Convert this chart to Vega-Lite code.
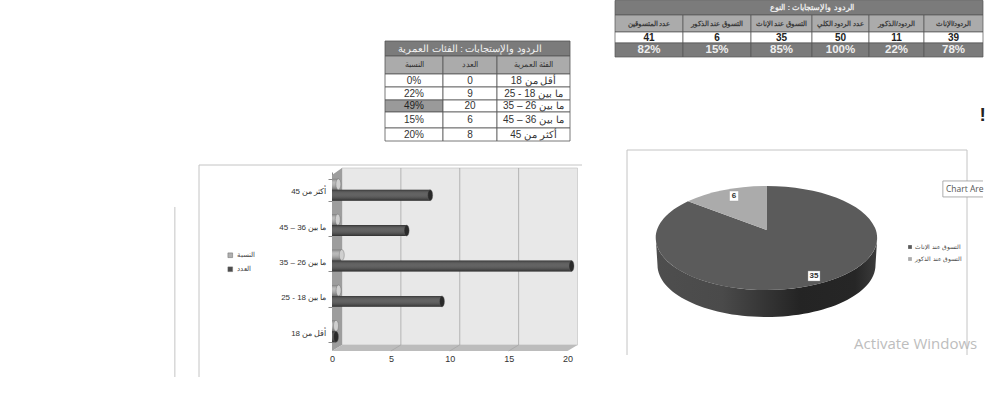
{
  "$schema": "https://vega.github.io/schema/vega-lite/v6.json",
  "padding": 0,
  "background": "white",
  "config": {
    "view": {"stroke": null},
    "font": "Liberation Sans",
    "text": {"font": "Liberation Sans"}
  },
  "datasets": {
    "ageTable": [
      {"section": "title", "label": "الردود والإستجابات : الفئات العمرية", "c0": 0, "c1": 3, "cm": 1.5, "r0": 0, "r1": 1, "rm": 0.5},
      {"section": "header", "label": "النسبة", "c0": 0, "c1": 1, "cm": 0.5, "r0": 1, "r1": 2, "rm": 1.5},
      {"section": "header", "label": "العدد", "c0": 1, "c1": 2, "cm": 1.5, "r0": 1, "r1": 2, "rm": 1.5},
      {"section": "header", "label": "الفئة العمرية", "c0": 2, "c1": 3, "cm": 2.5, "r0": 1, "r1": 2, "rm": 1.5},
      {"section": "body", "label": "0%", "c0": 0, "c1": 1, "cm": 0.5, "r0": 2, "r1": 3, "rm": 2.5},
      {"section": "body", "label": "0", "c0": 1, "c1": 2, "cm": 1.5, "r0": 2, "r1": 3, "rm": 2.5},
      {"section": "body", "label": "\u202Bأقل من 18\u202C", "c0": 2, "c1": 3, "cm": 2.5, "r0": 2, "r1": 3, "rm": 2.5},
      {"section": "body", "label": "22%", "c0": 0, "c1": 1, "cm": 0.5, "r0": 3, "r1": 4, "rm": 3.5},
      {"section": "body", "label": "9", "c0": 1, "c1": 2, "cm": 1.5, "r0": 3, "r1": 4, "rm": 3.5},
      {"section": "body", "label": "\u202Bما بين 18 - 25\u202C", "c0": 2, "c1": 3, "cm": 2.5, "r0": 3, "r1": 4, "rm": 3.5},
      {"section": "highlight", "label": "49%", "c0": 0, "c1": 1, "cm": 0.5, "r0": 4, "r1": 5, "rm": 4.5},
      {"section": "body", "label": "20", "c0": 1, "c1": 2, "cm": 1.5, "r0": 4, "r1": 5, "rm": 4.5},
      {"section": "body", "label": "\u202Bما بين 26 – 35\u202C", "c0": 2, "c1": 3, "cm": 2.5, "r0": 4, "r1": 5, "rm": 4.5},
      {"section": "body", "label": "15%", "c0": 0, "c1": 1, "cm": 0.5, "r0": 5, "r1": 6, "rm": 5.5},
      {"section": "body", "label": "6", "c0": 1, "c1": 2, "cm": 1.5, "r0": 5, "r1": 6, "rm": 5.5},
      {"section": "body", "label": "\u202Bما بين 36 – 45\u202C", "c0": 2, "c1": 3, "cm": 2.5, "r0": 5, "r1": 6, "rm": 5.5},
      {"section": "body", "label": "20%", "c0": 0, "c1": 1, "cm": 0.5, "r0": 6, "r1": 7, "rm": 6.5},
      {"section": "body", "label": "8", "c0": 1, "c1": 2, "cm": 1.5, "r0": 6, "r1": 7, "rm": 6.5},
      {"section": "body", "label": "\u202Bأكثر من 45\u202C", "c0": 2, "c1": 3, "cm": 2.5, "r0": 6, "r1": 7, "rm": 6.5}
    ],
    "genderTable": [
      {"section": "title", "label": "الردود والإستجابات : النوع", "c0": 0, "c1": 6, "cm": 3, "r0": 0, "r1": 1, "rm": 0.5},
      {"section": "header", "label": "عدد المتسوقين", "c0": 0, "c1": 1, "cm": 0.5, "r0": 1, "r1": 2, "rm": 1.5},
      {"section": "header", "label": "التسوق عند الذكور", "c0": 1, "c1": 2, "cm": 1.5, "r0": 1, "r1": 2, "rm": 1.5},
      {"section": "header", "label": "التسوق عند الإناث", "c0": 2, "c1": 3, "cm": 2.5, "r0": 1, "r1": 2, "rm": 1.5},
      {"section": "header", "label": "عدد الردود الكلي", "c0": 3, "c1": 4, "cm": 3.5, "r0": 1, "r1": 2, "rm": 1.5},
      {"section": "header", "label": "الردود/الذكور", "c0": 4, "c1": 5, "cm": 4.5, "r0": 1, "r1": 2, "rm": 1.5},
      {"section": "header", "label": "الردود/الإناث", "c0": 5, "c1": 6, "cm": 5.5, "r0": 1, "r1": 2, "rm": 1.5},
      {"section": "body", "label": "41", "c0": 0, "c1": 1, "cm": 0.5, "r0": 2, "r1": 3, "rm": 2.5},
      {"section": "body", "label": "6", "c0": 1, "c1": 2, "cm": 1.5, "r0": 2, "r1": 3, "rm": 2.5},
      {"section": "body", "label": "35", "c0": 2, "c1": 3, "cm": 2.5, "r0": 2, "r1": 3, "rm": 2.5},
      {"section": "body", "label": "50", "c0": 3, "c1": 4, "cm": 3.5, "r0": 2, "r1": 3, "rm": 2.5},
      {"section": "body", "label": "11", "c0": 4, "c1": 5, "cm": 4.5, "r0": 2, "r1": 3, "rm": 2.5},
      {"section": "body", "label": "39", "c0": 5, "c1": 6, "cm": 5.5, "r0": 2, "r1": 3, "rm": 2.5},
      {"section": "pct", "label": "82%", "c0": 0, "c1": 1, "cm": 0.5, "r0": 3, "r1": 4, "rm": 3.5},
      {"section": "pct", "label": "15%", "c0": 1, "c1": 2, "cm": 1.5, "r0": 3, "r1": 4, "rm": 3.5},
      {"section": "pct", "label": "85%", "c0": 2, "c1": 3, "cm": 2.5, "r0": 3, "r1": 4, "rm": 3.5},
      {"section": "pct", "label": "100%", "c0": 3, "c1": 4, "cm": 3.5, "r0": 3, "r1": 4, "rm": 3.5},
      {"section": "pct", "label": "22%", "c0": 4, "c1": 5, "cm": 4.5, "r0": 3, "r1": 4, "rm": 3.5},
      {"section": "pct", "label": "78%", "c0": 5, "c1": 6, "cm": 5.5, "r0": 3, "r1": 4, "rm": 3.5}
    ],
    "ages": [
      {"group": "أكثر من 45", "series": "النسبة", "value": 0.2},
      {"group": "أكثر من 45", "series": "العدد", "value": 8},
      {"group": "ما بين 36 – 45", "series": "النسبة", "value": 0.15},
      {"group": "ما بين 36 – 45", "series": "العدد", "value": 6},
      {"group": "ما بين 26 – 35", "series": "النسبة", "value": 0.49},
      {"group": "ما بين 26 – 35", "series": "العدد", "value": 20},
      {"group": "ما بين 18 - 25", "series": "النسبة", "value": 0.22},
      {"group": "ما بين 18 - 25", "series": "العدد", "value": 9},
      {"group": "أقل من 18", "series": "النسبة", "value": 0},
      {"group": "أقل من 18", "series": "العدد", "value": 0}
    ],
    "slices": [
      {"slice": "التسوق عند الإناث", "value": 35},
      {"slice": "التسوق عند الذكور", "value": 6}
    ]
  },
  "bounds": "flush",
  "spacing": 0,
  "columns": 2,
  "resolve": {"scale": {"color": "independent", "fill": "independent", "size": "independent", "shape": "independent"}},
  "concat": [
    {
      "width": 600,
      "height": 150,
      "data": {"name": "ageTable"},
      "layer": [
        {
          "mark": {"type": "rect", "stroke": "#555", "strokeWidth": 0.8},
          "encoding": {
            "x": {"field": "c0", "type": "quantitative", "axis": null, "scale": {"domain": [0, 1, 2, 3], "range": [385, 443, 497, 570]}},
            "x2": {"field": "c1"},
            "y": {"field": "r0", "type": "quantitative", "axis": null, "scale": {"domain": [0, 1, 2, 3, 4, 5, 6, 7], "range": [41, 56, 74, 87, 100, 112, 128, 141]}},
            "y2": {"field": "r1"},
            "fill": {"field": "section", "legend": null, "scale": {"domain": ["title", "header", "body", "highlight"], "range": ["#7b7b7b", "#ababab", "#ffffff", "#9a9a9a"]}}
          }
        },
        {
          "mark": {"type": "text", "baseline": "middle", "align": "center"},
          "encoding": {
            "x": {"field": "cm", "type": "quantitative", "axis": null, "scale": {"domain": [0, 1, 2, 3], "range": [385, 443, 497, 570]}},
            "y": {"field": "rm", "type": "quantitative", "axis": null, "scale": {"domain": [0, 1, 2, 3, 4, 5, 6, 7], "range": [41, 56, 74, 87, 100, 112, 128, 141]}},
            "text": {"field": "label"},
            "color": {"field": "section", "legend": null, "scale": {"domain": ["title", "header", "body", "highlight"], "range": ["#f2f2f2", "#333333", "#333333", "#222222"]}},
            "size": {"field": "section", "type": "ordinal", "legend": null, "scale": {"type": "ordinal", "domain": ["title", "header", "body", "highlight"], "range": [9.5, 7.5, 10, 10]}}
          }
        }
      ]
    },
    {
      "width": 400,
      "height": 150,
      "data": {"name": "genderTable"},
      "layer": [
        {
          "mark": {"type": "rect", "stroke": "#555", "strokeWidth": 0.7},
          "encoding": {
            "x": {"field": "c0", "type": "quantitative", "axis": null, "scale": {"domain": [0, 1, 2, 3, 4, 5, 6], "range": [15, 83, 151, 212, 269, 324, 383]}},
            "x2": {"field": "c1"},
            "y": {"field": "r0", "type": "quantitative", "axis": null, "scale": {"domain": [0, 1, 2, 3, 4], "range": [0.5, 15, 32, 43, 57]}},
            "y2": {"field": "r1"},
            "fill": {"field": "section", "legend": null, "scale": {"domain": ["title", "header", "body", "pct"], "range": ["#7b7b7b", "#ababab", "#ffffff", "#7b7b7b"]}}
          }
        },
        {
          "mark": {"type": "text", "baseline": "middle", "align": "center", "fontWeight": "bold"},
          "encoding": {
            "x": {"field": "cm", "type": "quantitative", "axis": null, "scale": {"domain": [0, 1, 2, 3, 4, 5, 6], "range": [15, 83, 151, 212, 269, 324, 383]}},
            "y": {"field": "rm", "type": "quantitative", "axis": null, "scale": {"domain": [0, 1, 2, 3, 4], "range": [0.5, 15, 32, 43, 57]}},
            "text": {"field": "label"},
            "color": {"field": "section", "legend": null, "scale": {"domain": ["title", "header", "body", "pct"], "range": ["#eeeeee", "#3a3a3a", "#222222", "#eeeeee"]}},
            "size": {"field": "section", "type": "ordinal", "legend": null, "scale": {"type": "ordinal", "domain": ["title", "header", "body", "pct"], "range": [8, 6.8, 10, 11.5]}}
          }
        }
      ]
    },
    {
      "width": 600,
      "height": 201,
      "resolve": {"scale": {"x": "independent", "y": "independent"}},
      "layer": [
        {
          "data": {"values": [
            {"x": 0, "x2": 1, "y": 0, "y2": 0},
            {"x": 0, "x2": 0, "y": 0, "y2": 1},
            {"x": -0.063, "x2": -0.063, "y": 0.198, "y2": 1}
          ]},
          "mark": {"type": "rule", "color": "#c4c4c4", "strokeWidth": 1},
          "encoding": {
            "x": {"field": "x", "type": "quantitative", "axis": null, "scale": {"domain": [0, 1], "range": [199, 582]}},
            "x2": {"field": "x2"},
            "y": {"field": "y", "type": "quantitative", "axis": null, "scale": {"domain": [0, 1], "range": [15, 227]}},
            "y2": {"field": "y2"}
          }
        },
        {
          "resolve": {"scale": {"y": "independent"}, "axis": {"x": "independent"}},
          "layer": [
            {
              "layer": [
                {
                  "data": {"values": [{"x": 0.85, "x2": 20.85, "y": 0.033, "y2": 1}]},
                  "mark": {"type": "rect", "fill": "#e8e8e8", "stroke": "#bdbdbd", "strokeWidth": 0.6},
                  "encoding": {
                    "x": {"field": "x", "type": "quantitative", "axis": null, "scale": {"domain": [0, 20], "range": [332, 567.5]}},
                    "x2": {"field": "x2"},
                    "y": {"field": "y", "type": "quantitative", "axis": null, "scale": {"domain": [0, 1], "range": [201, 18]}},
                    "y2": {"field": "y2"}
                  }
                },
                {
                  "data": {"values": [{"x": 0, "y": 0.962, "y2": 0}, {"x": 0.85, "y": 1, "y2": 0.033}]},
                  "mark": {"type": "area", "orient": "vertical", "fill": "#9d9d9d"},
                  "encoding": {
                    "x": {"field": "x", "type": "quantitative", "axis": null, "scale": {"domain": [0, 20], "range": [332, 567.5]}},
                    "y": {"field": "y", "type": "quantitative", "axis": null, "stack": null, "scale": {"domain": [0, 1], "range": [201, 18]}},
                    "y2": {"field": "y2"}
                  }
                },
                {
                  "data": {"values": [{"x": 0, "y": 0, "y2": 0}, {"x": 0.85, "y": 0.033, "y2": 0}, {"x": 20, "y": 0.033, "y2": 0}, {"x": 20.85, "y": 0.033, "y2": 0.033}]},
                  "mark": {"type": "area", "orient": "vertical", "fill": "#bcbcbc"},
                  "encoding": {
                    "x": {"field": "x", "type": "quantitative", "axis": null, "scale": {"domain": [0, 20], "range": [332, 567.5]}},
                    "y": {"field": "y", "type": "quantitative", "axis": null, "stack": null, "scale": {"domain": [0, 1], "range": [201, 18]}},
                    "y2": {"field": "y2"}
                  }
                },
                {
                  "data": {"values": [
                    {"x": 5.85, "x2": 5.85, "y": 0.033, "y2": 1},
                    {"x": 10.85, "x2": 10.85, "y": 0.033, "y2": 1},
                    {"x": 15.85, "x2": 15.85, "y": 0.033, "y2": 1},
                    {"x": 5, "x2": 5.85, "y": 0, "y2": 0.033},
                    {"x": 10, "x2": 10.85, "y": 0, "y2": 0.033},
                    {"x": 15, "x2": 15.85, "y": 0, "y2": 0.033}
                  ]},
                  "mark": {"type": "rule", "color": "#a6a6a6", "strokeWidth": 0.8},
                  "encoding": {
                    "x": {"field": "x", "type": "quantitative", "axis": null, "scale": {"domain": [0, 20], "range": [332, 567.5]}},
                    "x2": {"field": "x2"},
                    "y": {"field": "y", "type": "quantitative", "axis": null, "scale": {"domain": [0, 1], "range": [201, 18]}},
                    "y2": {"field": "y2"}
                  }
                }
              ]
            },
            {
              "data": {"name": "ages"},
              "encoding": {
                "x": {"field": "value", "type": "quantitative", "stack": null, "title": null, "scale": {"domain": [0, 20], "range": [332, 567.5]}, "axis": {"values": [0, 5, 10, 15, 20], "grid": false, "domain": false, "ticks": false, "labelFlush": false, "labelPadding": 3, "labelFontSize": 9, "labelColor": "#333"}},
                "y": {"field": "group", "type": "nominal", "title": null, "scale": {"domain": ["أكثر من 45", "ما بين 36 – 45", "ما بين 26 – 35", "ما بين 18 - 25", "أقل من 18"], "range": [22, 199], "paddingInner": 0.38, "paddingOuter": 0.19}, "axis": {"offset": -332, "tickBand": "extent", "tickSize": 4, "tickColor": "#8a8a8a", "domainColor": "#8a8a8a", "labelPadding": 2, "labelFontSize": 8, "labelOffset": 2, "labelColor": "#333", "labelExpr": "'\u202B' + datum.label"}},
                "yOffset": {"field": "series", "scale": {"domain": ["النسبة", "العدد"], "paddingInner": 0}}
              },
              "layer": [
                {
                  "mark": {"type": "bar", "xOffset": 4, "x2Offset": 4},
                  "encoding": {
                    "color": {"field": "series", "scale": {"domain": ["النسبة", "العدد"], "range": ["#b0b0b0", "#4c4c4c"]}, "legend": {"orient": "none", "legendX": 227, "legendY": 102, "title": null, "symbolType": "square", "symbolSize": 22, "labelFontSize": 6.5, "labelColor": "#444", "rowPadding": 6, "labelOffset": 3, "symbolStrokeColor": "#666", "symbolStrokeWidth": 0.5}}
                  }
                },
                {
                  "mark": {"type": "bar", "xOffset": 4, "x2Offset": 4, "color": {"gradient": "linear", "x1": 0, "y1": 0, "x2": 0, "y2": 1, "stops": [{"offset": 0, "color": "rgba(0,0,0,0.3)"}, {"offset": 0.35, "color": "rgba(255,255,255,0.12)"}, {"offset": 1, "color": "rgba(0,0,0,0.4)"}]}}
                },
                {
                  "mark": {"type": "point", "shape": "M0,-5.5 A2.5,5.5 0 1 1 0,5.5 A2.5,5.5 0 1 1 0,-5.5 Z", "size": 4, "filled": true, "opacity": 1, "xOffset": 4, "stroke": "#666", "strokeWidth": 0.4},
                  "encoding": {
                    "fill": {"field": "series", "legend": null, "scale": {"domain": ["النسبة", "العدد"], "range": ["#cfcfcf", "#2a2a2a"]}}
                  }
                }
              ]
            }
          ]
        }
      ]
    },
    {
      "width": 333,
      "height": 176,
      "resolve": {"scale": {"x": "independent", "y": "independent", "shape": "independent"}},
      "layer": [
        {
          "encoding": {
            "x": {"field": "x", "type": "quantitative", "axis": null, "scale": {"domain": [0, 1], "range": [27, 367]}},
            "y": {"field": "y", "type": "quantitative", "axis": null, "scale": {"domain": [0, 1], "range": [0, 205]}}
          },
          "layer": [
            {
              "data": {"values": [
                {"x": 0, "x2": 1, "y": 0, "y2": 0},
                {"x": 0, "x2": 0, "y": 0, "y2": 1},
                {"x": 1, "x2": 1, "y": 0, "y2": 1}
              ]},
              "mark": {"type": "rule", "color": "#c4c4c4", "strokeWidth": 1},
              "encoding": {"x2": {"field": "x2"}, "y2": {"field": "y2"}}
            },
            {
              "data": {"values": [{"x": 0.929, "x2": 1.047, "y": 0.151, "y2": 0.229}]},
              "mark": {"type": "rect", "fill": "white"},
              "encoding": {"x2": {"field": "x2"}, "y2": {"field": "y2"}}
            },
            {
              "data": {"values": [
                {"x": 0.929, "x2": 1.047, "y": 0.151, "y2": 0.151},
                {"x": 0.929, "x2": 1.047, "y": 0.229, "y2": 0.229},
                {"x": 0.929, "x2": 0.929, "y": 0.151, "y2": 0.229}
              ]},
              "mark": {"type": "rule", "color": "#999", "strokeWidth": 0.8},
              "encoding": {"x2": {"field": "x2"}, "y2": {"field": "y2"}}
            },
            {
              "data": {"values": [{"x": 0.938, "y": 0.19, "note": "Chart Are"}]},
              "mark": {"type": "text", "align": "left", "baseline": "middle", "font": "Open Sans", "fontSize": 8.5, "color": "#555"},
              "encoding": {"text": {"field": "note"}}
            },
            {
              "data": {"values": [{"x": 0.668, "y": 0.946, "note": "Activate Windows"}]},
              "mark": {"type": "text", "align": "left", "baseline": "middle", "font": "Open Sans", "fontSize": 15, "color": "#bdbdbd"},
              "encoding": {"text": {"field": "note"}}
            },
            {
              "data": {"values": [{"x": 1.046, "y": -0.17, "note": "!"}]},
              "mark": {"type": "text", "align": "center", "baseline": "middle", "fontSize": 19, "fontWeight": "bold", "color": "#222"},
              "encoding": {"text": {"field": "note"}}
            }
          ]
        },
        {
          "data": {"name": "slices"},
          "layer": [
            {
              "transform": [{"filter": "datum.value == 35"}],
              "mark": {"type": "point", "filled": true, "opacity": 1, "size": 4, "shape": "M-110.7,0 A110.7,52 0 0 0 110.7,0 L109,27 A109,52 0 0 1 -109,27 Z", "fill": {"gradient": "linear", "x1": 0, "y1": 0, "x2": 1, "y2": 0, "stops": [{"offset": 0, "color": "#4e4e4e"}, {"offset": 0.3, "color": "#4a4a4a"}, {"offset": 0.65, "color": "#242424"}, {"offset": 0.9, "color": "#262626"}, {"offset": 1, "color": "#3c3c3c"}]}}
            },
            {
              "mark": {"type": "point", "filled": true, "opacity": 1, "size": 4},
              "encoding": {
                "color": {"field": "slice", "scale": {"domain": ["التسوق عند الإناث", "التسوق عند الذكور"], "range": ["#5b5b5b", "#ababab"]}, "legend": {"orient": "none", "legendX": 307, "legendY": 94, "title": null, "symbolType": "square", "symbolSize": 14, "labelFontSize": 6, "labelColor": "#444", "rowPadding": 6, "labelOffset": 2}},
                "shape": {"field": "slice", "legend": null, "scale": {"domain": ["التسوق عند الإناث", "التسوق عند الذكور"], "range": ["M0,-8 L-78.5,-36.7 A110.7,52 0 1 0 0,-52 Z", "M0,-8 L0,-52 A110.7,52 0 0 0 -78.5,-36.7 Z"]}}
              }
            }
          ]
        },
        {
          "data": {"name": "slices"},
          "encoding": {
            "x": {"field": "value", "type": "quantitative", "axis": null, "scale": {"domain": [6, 35], "range": [134, 214]}},
            "y": {"field": "value", "type": "quantitative", "axis": null, "scale": {"domain": [6, 35], "range": [46, 126]}}
          },
          "layer": [
            {
              "mark": {"type": "point", "filled": true, "opacity": 1, "size": 4, "fill": "white", "stroke": "#999", "strokeWidth": 0.4},
              "encoding": {
                "shape": {"field": "slice", "legend": null, "scale": {"domain": ["التسوق عند الإناث", "التسوق عند الذكور"], "range": ["M-6,-5 H6 V5 H-6 Z", "M-4.5,-5 H4.5 V5 H-4.5 Z"]}}
              }
            },
            {
              "mark": {"type": "text", "fontSize": 8, "fontWeight": "bold", "color": "#333", "baseline": "middle", "align": "center"},
              "encoding": {"text": {"field": "value", "type": "quantitative"}}
            }
          ]
        }
      ]
    }
  ]
}
